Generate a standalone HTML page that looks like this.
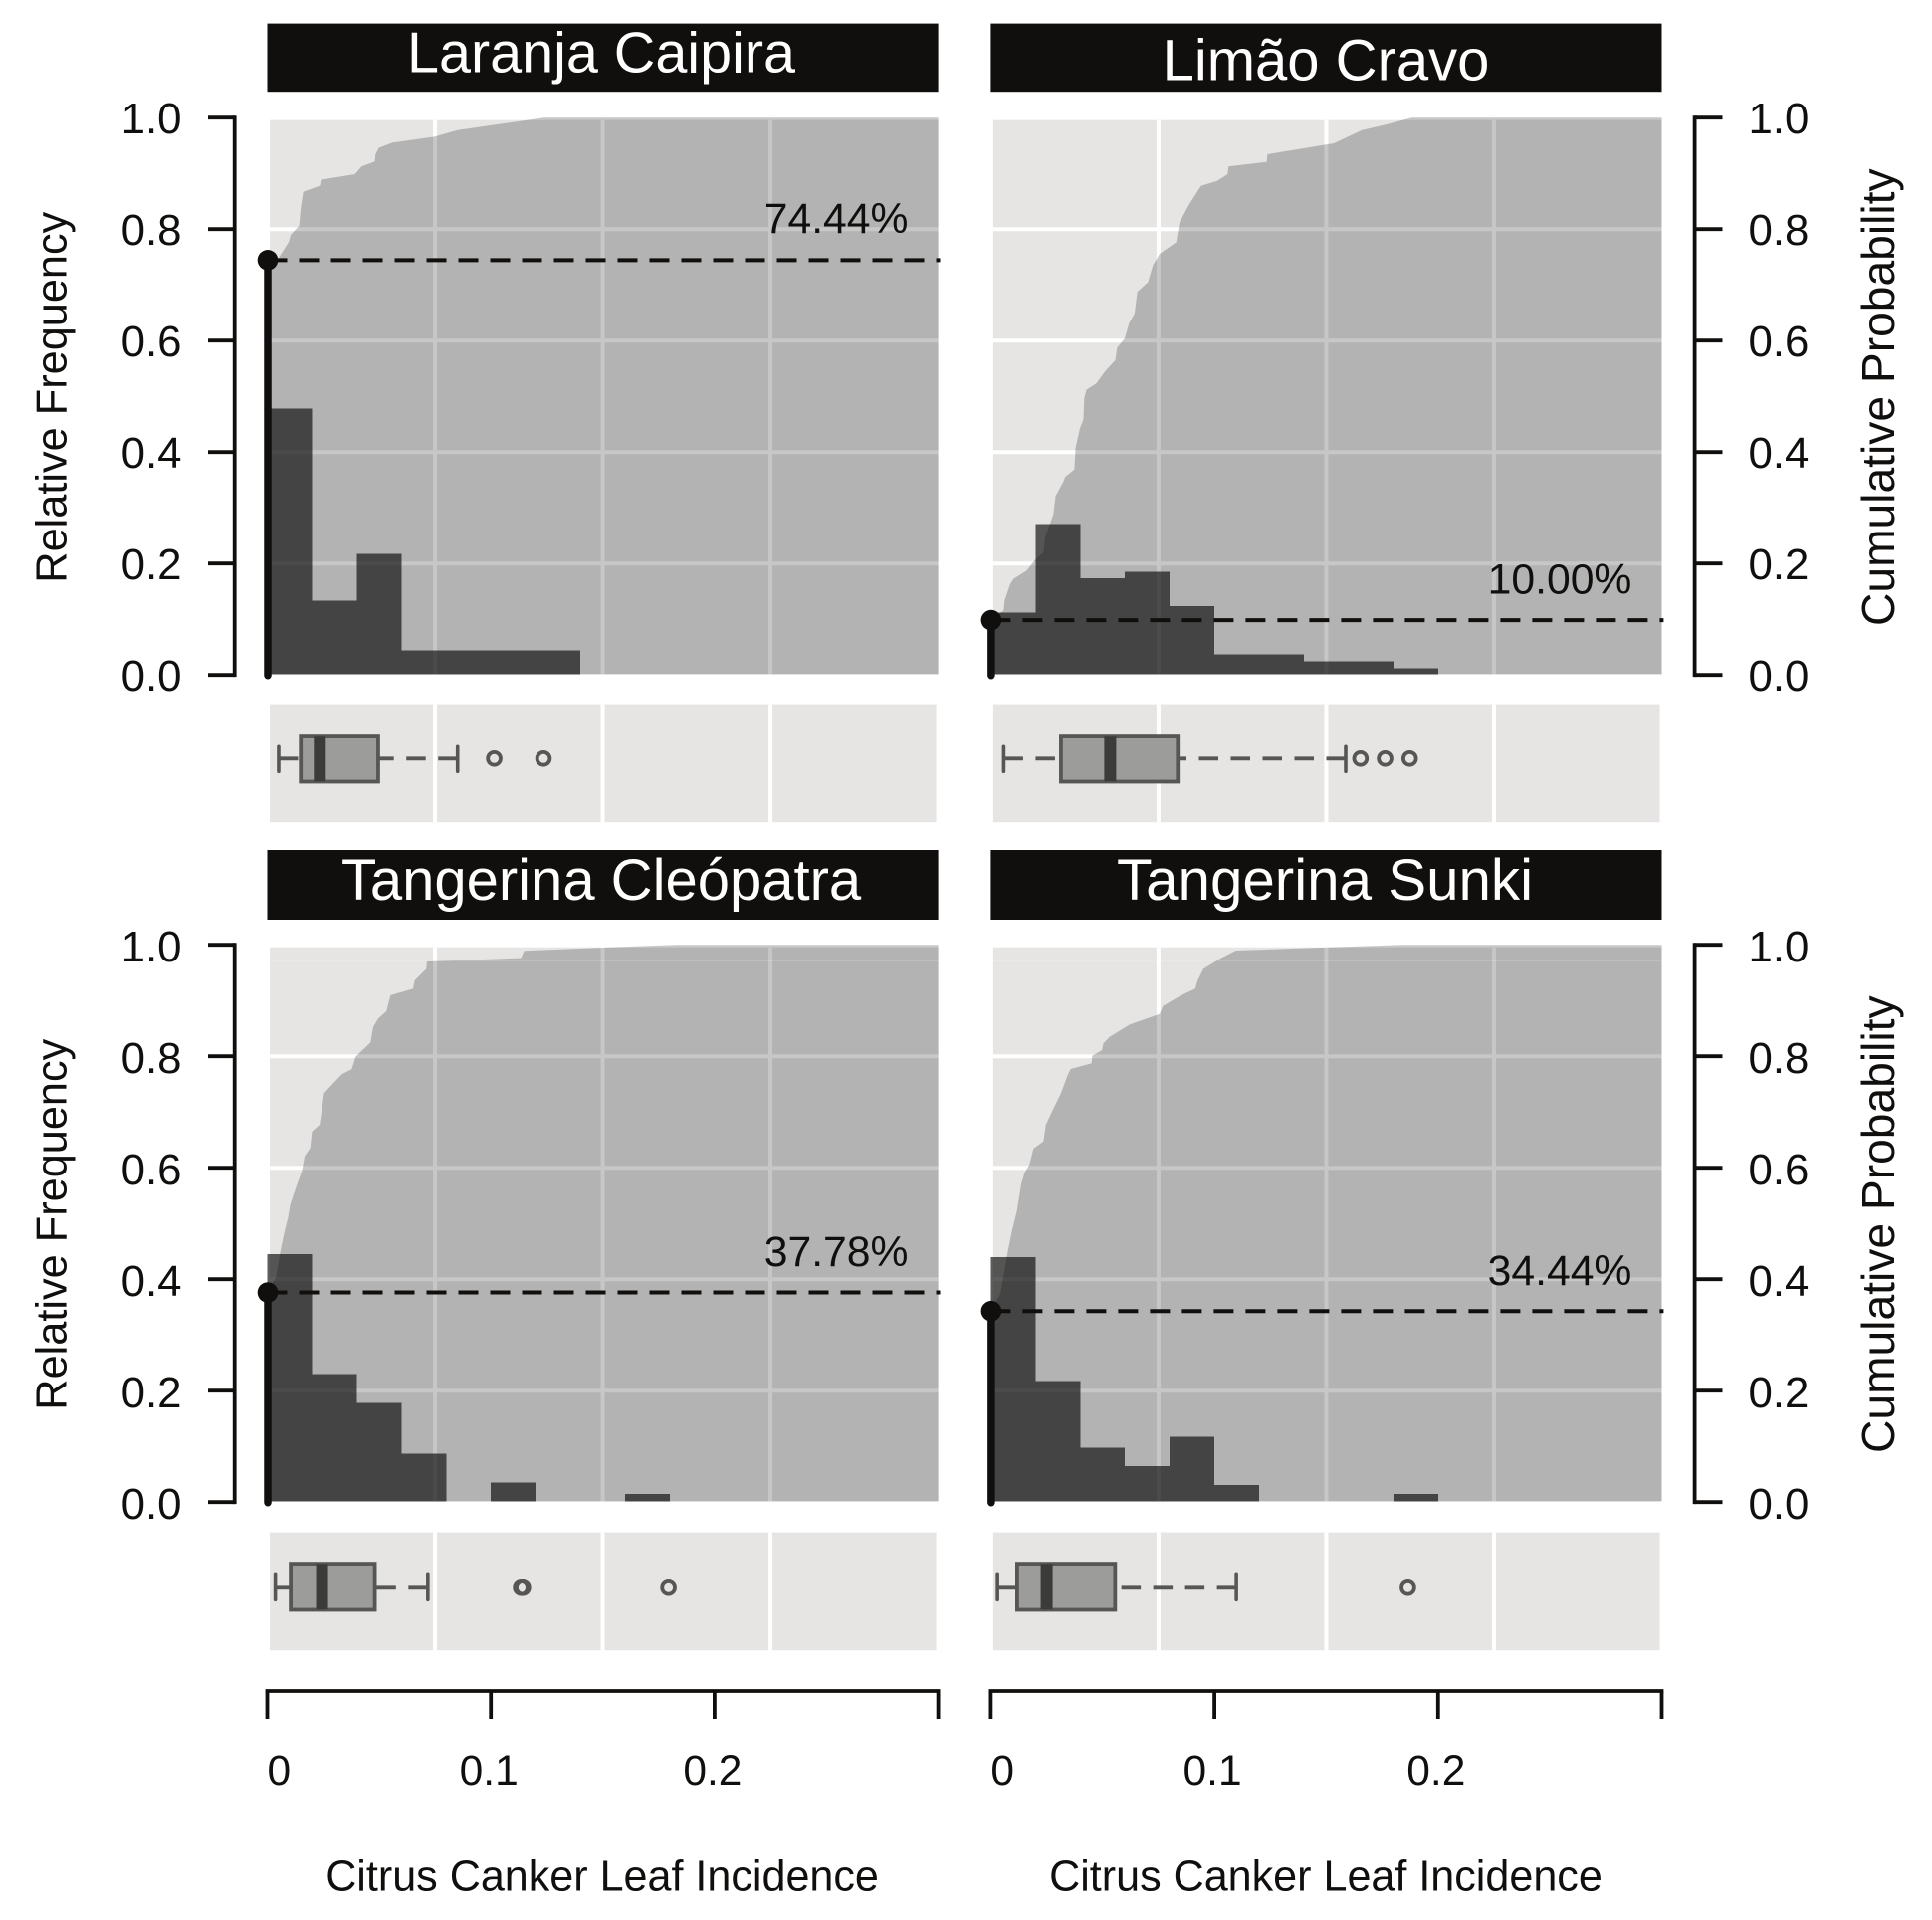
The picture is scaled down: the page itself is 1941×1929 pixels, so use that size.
<!DOCTYPE html>
<html lang="en">
<head>
<meta charset="utf-8">
<title>Citrus Canker Leaf Incidence</title>
<style>
html,body{margin:0;padding:0;background:#fff;}
svg{display:block;font-family:"Liberation Sans",Arial,sans-serif;}
</style>
</head>
<body>
<svg id="chart" xmlns="http://www.w3.org/2000/svg" width="1941" height="1929" viewBox="0 0 1941 1929"></svg>
<script>
const panelTitles = ["Laranja Caipira", "Limão Cravo", "Tangerina Cleópatra", "Tangerina Sunki"];
const cutoffPercents = [74.44, 10.00, 37.78, 34.44];

const binWidth = 0.02;
const histLaranja = [0.478, 0.133, 0.217, 0.044, 0.044, 0.044, 0.044];
const histLimao = [0.112, 0.271, 0.174, 0.185, 0.124, 0.037, 0.037, 0.0245, 0.0245, 0.012];
const histCleopatra = [0.445, 0.23, 0.178, 0.087, 0, 0.035, 0, 0, 0.015];
const histSunki = [0.44, 0.217, 0.098, 0.065, 0.117, 0.031, 0, 0, 0, 0.015];

const ecdfXLaranja = [0.0048,0.0096,0.0105,0.0143,0.0149,0.0161,0.0235,0.0240,0.0392,0.0422,0.0481,0.0484,0.0499,0.0559,0.0748,0.0852,0.1060,0.1238,0.3];
const ecdfPLaranja = [0.7467,0.7766,0.7897,0.8064,0.8361,0.8670,0.8777,0.8885,0.8986,0.9123,0.9212,0.9343,0.9456,0.9551,0.9658,0.9777,0.9896,1,1];

const ecdfXLimao = [0.0058,0.0062,0.0087,0.0102,0.0161,0.0198,0.0236,0.0243,0.0280,0.0290,0.0326,0.0332,0.0374,0.0379,0.0399,0.0414,0.0418,0.0428,0.0473,0.0510,0.0557,0.0565,0.0599,0.0618,0.0643,0.0655,0.0703,0.0725,0.0755,0.0829,0.0844,0.0888,0.0921,0.0940,0.1014,0.1059,0.1063,0.1234,0.1237,0.1534,0.1660,0.1771,0.1882,0.3];
const ecdfPLimao = [0.1158,0.1337,0.1634,0.1724,0.1873,0.2063,0.2200,0.2468,0.2885,0.3212,0.3480,0.3551,0.3688,0.4075,0.4432,0.4581,0.4968,0.5117,0.5236,0.5444,0.5652,0.5873,0.6039,0.6307,0.6486,0.6873,0.7051,0.7349,0.7557,0.7765,0.8123,0.8450,0.8658,0.8777,0.8867,0.8986,0.9123,0.9206,0.9343,0.9539,0.9777,0.9878,1,1];

const ecdfXCleopatra = [0.0039,0.0059,0.0078,0.0093,0.0103,0.0133,0.0155,0.0167,0.0192,0.0200,0.0234,0.0244,0.0254,0.0274,0.0333,0.0378,0.0395,0.0462,0.0474,0.0496,0.0533,0.0551,0.0652,0.0659,0.0711,0.0714,0.1134,0.1149,0.1505,0.1832,0.3];
const ecdfPCleopatra = [0.4033,0.4510,0.4867,0.5105,0.5343,0.5700,0.5938,0.6206,0.6355,0.6652,0.6771,0.7039,0.7336,0.7426,0.7676,0.7771,0.7992,0.8248,0.8527,0.8676,0.8807,0.9093,0.9212,0.9361,0.9569,0.9700,0.9760,0.9891,0.9950,1,1];

const ecdfXSunki = [0.0043,0.0077,0.0095,0.0117,0.0136,0.0151,0.0173,0.0191,0.0236,0.0246,0.0285,0.0314,0.0344,0.0357,0.0451,0.0454,0.0498,0.0503,0.0532,0.0621,0.0755,0.0770,0.0851,0.0914,0.0925,0.0951,0.1029,0.1096,0.1400,0.1845,0.3];
const ecdfPSunki = [0.3736,0.4510,0.4867,0.5224,0.5700,0.5908,0.6057,0.6343,0.6474,0.6771,0.7099,0.7338,0.7664,0.7771,0.7873,0.8010,0.8111,0.8230,0.8349,0.8569,0.8759,0.8902,0.9093,0.9212,0.9361,0.9569,0.9760,0.9897,0.9938,1,1];

// whisker low, q1, median, q3, whisker high
const boxLaranja = [0.0051, 0.0150, 0.0235, 0.0496, 0.0851];
const boxLimao = [0.0058, 0.0314, 0.0534, 0.0836, 0.1587];
const boxCleopatra = [0.0036, 0.0105, 0.0245, 0.0481, 0.0718];
const boxSunki = [0.0030, 0.0118, 0.0250, 0.0556, 0.1098];
const outliersLaranja = [0.1015, 0.1235];
const outliersLimao = [0.1653, 0.1763, 0.1873];
const outliersCleopatra = [0.1135, 0.1143, 0.1794];
const outliersSunki = [0.1865];

const yTicks = [0, 0.2, 0.4, 0.6, 0.8, 1.0];
const xTicks = [0, 0.1, 0.2, 0.3];
const xTickLabels = ["0", "0.1", "0.2", ""];
const gridX = [0.075, 0.15, 0.225];

const histSeries = [histLaranja, histLimao, histCleopatra, histSunki];
const ecdfXSeries = [ecdfXLaranja, ecdfXLimao, ecdfXCleopatra, ecdfXSunki];
const ecdfPSeries = [ecdfPLaranja, ecdfPLimao, ecdfPCleopatra, ecdfPSunki];
const boxSeries = [boxLaranja, boxLimao, boxCleopatra, boxSunki];
const outlierSeries = [outliersLaranja, outliersLimao, outliersCleopatra, outliersSunki];

const INK = "#100f0d";
const svg = document.getElementById("chart");
const NS = "http://www.w3.org/2000/svg";

function el(tag, attrs, parent, text) {
  const n = document.createElementNS(NS, tag);
  for (const k in attrs) n.setAttribute(k, attrs[k]);
  if (text !== undefined) n.textContent = text;
  (parent || svg).appendChild(n);
  return n;
}

const panels = [
  {col: 0, row: 0, titleBase: 72.4, titleX: 604, titleSize: 57.5, pctGap: 27.5},
  {col: 1, row: 0, titleBase: 80.6, titleX: 1332, titleSize: 58, pctGap: 25.5},
  {col: 0, row: 1, titleBase: 904, titleX: 604, titleSize: 58, pctGap: 25.5},
  {col: 1, row: 1, titleBase: 904, titleX: 1331, titleSize: 58.3, pctGap: 25.5}
];
const colX0 = [268.5, 995.4];
const rowZero = [678.2, 1509.2];
const plotH = 560;
const xUnit = 2247;

panels.forEach(function (pn, i) {
  const x0 = colX0[pn.col];
  const y0 = rowZero[pn.row];
  const sx = function (v) { return x0 + v * xUnit; };
  const sy = function (p) { return y0 - p * plotH; };
  const base = y0 - 0.8;
  const right = sx(0.3);
  const bgLeft = x0 + 2.5;
  const rowShift = pn.row === 0 ? 0 : 1;
  const boxTop = y0 + 29.4 + rowShift;
  const boxBottom = y0 + 148 + rowShift;
  const boxMid = y0 + 84.1 + rowShift;
  const key = panelTitles[i].toLowerCase().replace(/[^a-z]+/g, "-");

  const g = el("g", {}, svg);
  
  

  const strip = el("rect", {x: x0, y: pn.row === 0 ? 23.6 : 854, width: right - x0, height: pn.row === 0 ? 68.6 : 70, fill: INK}, g);
  
  

  const title = el("text", {x: pn.titleX, y: pn.titleBase, "text-anchor": "middle", "font-size": pn.titleSize, fill: "#fff"}, g, panelTitles[i]);
  
  

  const bg = el("rect", {x: bgLeft, y: sy(1) + 2.5, width: right - bgLeft, height: base - sy(1) - 2.5, fill: "#e6e5e4"}, g);
  
  

  const boxBg = el("rect", {x: bgLeft, y: boxTop, width: right - bgLeft - 2, height: boxBottom - boxTop, fill: "#e6e5e4"}, g);
  
  

  yTicks.slice(1, 5).forEach(function (t) {
    const line = el("line", {x1: bgLeft, x2: right, y1: sy(t), y2: sy(t), stroke: "#fff", "stroke-width": 4}, g);
    
    
  });
  gridX.forEach(function (t) {
    const line = el("line", {x1: sx(t), x2: sx(t), y1: sy(1) + 2.5, y2: base, stroke: "#fff", "stroke-width": 4}, g);
    
    
    const line2 = el("line", {x1: sx(t), x2: sx(t), y1: boxTop, y2: boxBottom, stroke: "#fff", "stroke-width": 4}, g);
    
    
  });

  // cumulative probability area
  let d = "M" + sx(0) + " " + base + "L" + sx(0) + " " + sy(cutoffPercents[i] / 100);
  ecdfXSeries[i].forEach(function (x, j) {
    d += "L" + sx(x).toFixed(2) + " " + sy(ecdfPSeries[i][j]).toFixed(2);
  });
  d += "L" + sx(0.3) + " " + base + "Z";
  const area = el("path", {d: d, fill: "#1a1a1b", "fill-opacity": 0.243}, g);
  
  

  if (pn.row === 1) {
    const faint = el("line", {x1: bgLeft, x2: right, y1: y0 - 544.2, y2: y0 - 544.2, stroke: "#fff", "stroke-opacity": 0.2, "stroke-width": 1.5}, g);
    
    
  }

  // histogram bars
  histSeries[i].forEach(function (v, j) {
    if (v <= 0) return;
    const bar = el("rect", {
      x: sx(j * binWidth), y: sy(v),
      width: sx((j + 1) * binWidth) - sx(j * binWidth),
      height: base - sy(v),
      fill: "rgb(14,14,14)", "fill-opacity": 0.67,
      "shape-rendering": "crispEdges"
    }, g);
    
    
  });

  // cutoff marker
  const pc = cutoffPercents[i] / 100;
  const cutY = sy(pc) + (i === 0 ? 0 : 0.9);
  const dash = el("line", {x1: x0, x2: x0 + 676, y1: cutY, y2: cutY, stroke: INK, "stroke-width": 4, "stroke-dasharray": "20 12"}, g);
  
  
  const stem = el("line", {x1: x0 + 0.5, x2: x0 + 0.5, y1: cutY, y2: y0 + 0.5, stroke: INK, "stroke-width": 7.5, "stroke-linecap": "round"}, g);
  
  
  const dot = el("circle", {cx: x0 + 0.5, cy: cutY, r: 10.3, fill: INK}, g);
  
  
  const pct = el("text", {x: x0 + 644, y: sy(pc) - pn.pctGap, "text-anchor": "end", "font-size": 42.7, fill: INK}, g, cutoffPercents[i].toFixed(2) + "%");
  
  

  // boxplot
  const b = boxSeries[i];
  const boxColor = "#565655";
  const whiskHi = el("line", {x1: sx(b[4]), x2: sx(b[3]), y1: boxMid, y2: boxMid, stroke: boxColor, "stroke-width": 3.8, "stroke-dasharray": "19.5 12.5"}, g);
  
  
  const whiskLo = el("line", {x1: sx(b[0]), x2: sx(b[1]), y1: boxMid, y2: boxMid, stroke: boxColor, "stroke-width": 3.8, "stroke-dasharray": "19.5 12.5"}, g);
  
  
  [b[0], b[4]].forEach(function (v) {
    const cap = el("line", {x1: sx(v), x2: sx(v), y1: boxMid - 13, y2: boxMid + 13, stroke: boxColor, "stroke-width": 3.6, "stroke-linecap": "round"}, g);
    
    
  });
  const box = el("rect", {x: sx(b[1]), y: boxMid - 23.2, width: sx(b[3]) - sx(b[1]), height: 46.4, fill: "#9c9c9b", stroke: boxColor, "stroke-width": 3.8}, g);
  
  
  const med = el("line", {x1: sx(b[2]), x2: sx(b[2]), y1: boxMid - 23, y2: boxMid + 23, stroke: "#3b3b3a", "stroke-width": 12}, g);
  
  
  outlierSeries[i].forEach(function (v) {
    const o = el("circle", {cx: sx(v), cy: boxMid, r: 6.4, fill: "none", stroke: boxColor, "stroke-width": 3.8}, g);
    
    
  });

  // y axis
  const labelOffset = pn.row === 0 ? 16 : 17;
  const yAxis = el("g", {}, g);
  
  
  const axisX = pn.col === 0 ? 235.7 : 1702.6;
  const tickEnd = pn.col === 0 ? 209 : 1730.5;
  el("line", {x1: axisX, x2: axisX, y1: sy(1) - 1.9, y2: sy(0) + 1.9, stroke: INK, "stroke-width": 3.8}, yAxis);
  yTicks.forEach(function (t) {
    el("line", {x1: axisX, x2: tickEnd, y1: sy(t), y2: sy(t), stroke: INK, "stroke-width": 3.8}, yAxis);
    const lab = el("text", {
      x: pn.col === 0 ? 182.5 : 1756.5,
      y: sy(t) + labelOffset,
      "text-anchor": pn.col === 0 ? "end" : "start",
      "font-size": 43.8, fill: INK
    }, yAxis, t.toFixed(1));
    
    
  });
  const midY = sy(0.5) + 1;
  const yTitleX = pn.col === 0 ? 66.5 : 1903;
  const yTitle = el("text", {
    x: yTitleX, y: midY, "text-anchor": "middle", "font-size": pn.col === 0 ? 43.3 : 46.2, fill: INK,
    transform: "rotate(-90 " + yTitleX + " " + midY + ")"
  }, yAxis, pn.col === 0 ? "Relative Frequency" : "Cumulative Probability");
  
  

  // x axis
  if (pn.row === 1) {
    const xAxis = el("g", {}, g);
    
    
    el("line", {x1: x0 - 1.9, x2: right + 1.9, y1: 1699, y2: 1699, stroke: INK, "stroke-width": 3.8}, xAxis);
    xTicks.forEach(function (t, j) {
      el("line", {x1: sx(t), x2: sx(t), y1: 1699, y2: 1727, stroke: INK, "stroke-width": 3.8}, xAxis);
      if (xTickLabels[j]) {
        const lab = el("text", {
          x: j === 0 ? x0 : sx(t) - 2, y: 1793,
          "text-anchor": j === 0 ? "start" : "middle",
          "font-size": 42.5, fill: INK
        }, xAxis, xTickLabels[j]);
        
        
      }
    });
    const xTitle = el("text", {x: sx(0.15) - 0.5, y: 1899.5, "text-anchor": "middle", "font-size": 43.1, fill: INK}, xAxis, "Citrus Canker Leaf Incidence");
    
    
  }
});
</script>
</body>
</html>
